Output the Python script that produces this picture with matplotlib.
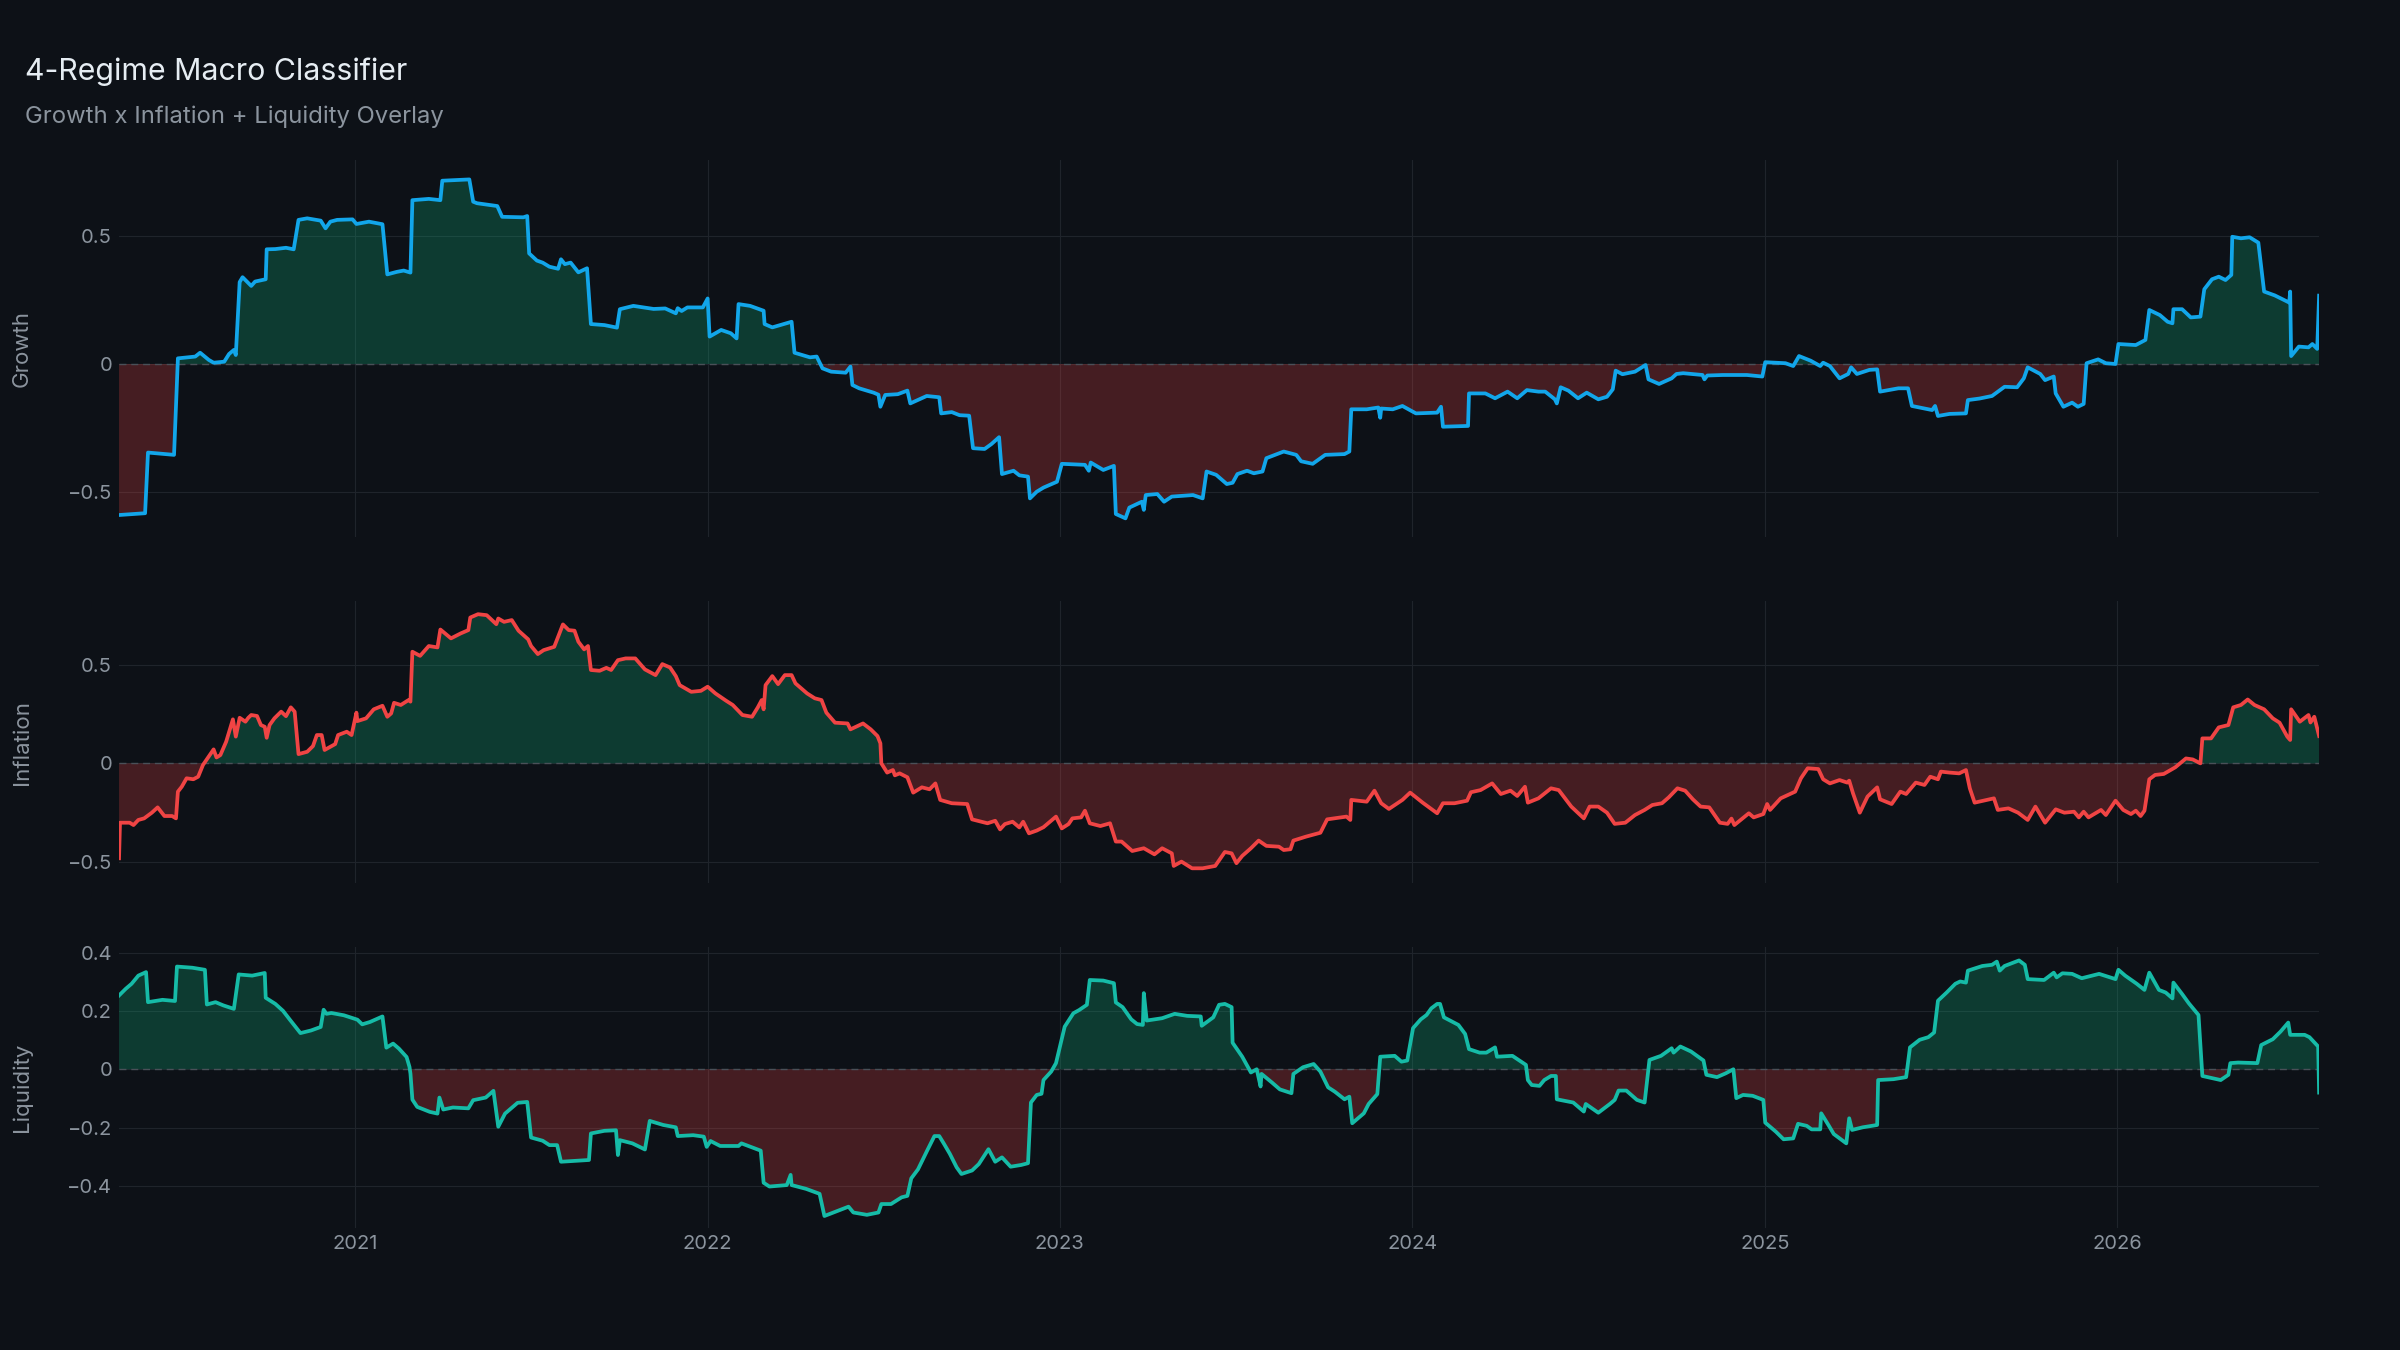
"""
4-Regime Macro Classifier: growth / inflation / liquidity scores, stacked panels.
"""

import numpy as np
import pandas as pd
import matplotlib.pyplot as plt
import matplotlib.dates as mdates

# ── data ─────────────────────────────────────────────────────────────────────
growth_dates = [
    '2020-05-01', '2020-05-28', '2020-05-31', '2020-06-27', '2020-07-01', '2020-07-19', '2020-07-24', '2020-08-02', '2020-08-07', '2020-08-18',
    '2020-08-23', '2020-08-28', '2020-08-30', '2020-09-03', '2020-09-06', '2020-09-15', '2020-09-19', '2020-09-30', '2020-10-01', '2020-10-10',
    '2020-10-21', '2020-10-29', '2020-11-03', '2020-11-12', '2020-11-26', '2020-12-01', '2020-12-06', '2020-12-13', '2020-12-29', '2021-01-02',
    '2021-01-15', '2021-01-29', '2021-02-03', '2021-02-13', '2021-02-20', '2021-02-27', '2021-03-01', '2021-03-18', '2021-03-30', '2021-04-01',
    '2021-04-29', '2021-05-03', '2021-05-07', '2021-05-28', '2021-06-02', '2021-06-24', '2021-06-28', '2021-06-30', '2021-07-08', '2021-07-14',
    '2021-07-21', '2021-07-30', '2021-08-02', '2021-08-06', '2021-08-12', '2021-08-20', '2021-08-29', '2021-09-02', '2021-09-16', '2021-09-29',
    '2021-10-02', '2021-10-16', '2021-11-06', '2021-11-18', '2021-11-29', '2021-12-01', '2021-12-05', '2021-12-11', '2021-12-27', '2022-01-01',
    '2022-01-03', '2022-01-15', '2022-01-25', '2022-01-31', '2022-02-02', '2022-02-14', '2022-02-28', '2022-03-01', '2022-03-09', '2022-03-29',
    '2022-04-01', '2022-04-17', '2022-04-24', '2022-04-30', '2022-05-09', '2022-05-24', '2022-05-29', '2022-05-31', '2022-06-07', '2022-06-22',
    '2022-06-27', '2022-06-29', '2022-07-04', '2022-07-17', '2022-07-27', '2022-07-30', '2022-08-16', '2022-08-29', '2022-08-31', '2022-09-11',
    '2022-09-19', '2022-09-29', '2022-10-03', '2022-10-15', '2022-10-22', '2022-10-30', '2022-11-02', '2022-11-14', '2022-11-20', '2022-11-29',
    '2022-12-01', '2022-12-08', '2022-12-15', '2022-12-29', '2023-01-03', '2023-01-15', '2023-01-27', '2023-01-31', '2023-02-02', '2023-02-15',
    '2023-02-26', '2023-02-28', '2023-03-10', '2023-03-14', '2023-03-27', '2023-03-29', '2023-03-31', '2023-04-12', '2023-04-19', '2023-04-27',
    '2023-05-19', '2023-05-29', '2023-06-02', '2023-06-12', '2023-06-23', '2023-06-29', '2023-07-04', '2023-07-14', '2023-07-21', '2023-07-30',
    '2023-08-03', '2023-08-21', '2023-09-03', '2023-09-08', '2023-09-20', '2023-10-03', '2023-10-23', '2023-10-28', '2023-10-30', '2023-11-15',
    '2023-11-27', '2023-11-29', '2023-11-30', '2023-12-12', '2023-12-22', '2024-01-05', '2024-01-27', '2024-01-31', '2024-02-02', '2024-02-28',
    '2024-02-29', '2024-03-17', '2024-03-27', '2024-04-09', '2024-04-19', '2024-04-29', '2024-05-11', '2024-05-18', '2024-05-28', '2024-05-30',
    '2024-06-03', '2024-06-11', '2024-06-21', '2024-06-30', '2024-07-12', '2024-07-21', '2024-07-27', '2024-07-30', '2024-08-06', '2024-08-19',
    '2024-08-30', '2024-09-02', '2024-09-13', '2024-09-26', '2024-10-01', '2024-10-08', '2024-10-28', '2024-10-30', '2024-11-02', '2024-11-18',
    '2024-12-13', '2024-12-29', '2025-01-01', '2025-01-22', '2025-01-30', '2025-02-05', '2025-02-17', '2025-02-27', '2025-03-02', '2025-03-09',
    '2025-03-19', '2025-03-28', '2025-03-31', '2025-04-06', '2025-04-19', '2025-04-27', '2025-04-30', '2025-05-19', '2025-05-29', '2025-06-02',
    '2025-06-23', '2025-06-26', '2025-06-29', '2025-07-11', '2025-07-28', '2025-07-30', '2025-08-11', '2025-08-24', '2025-09-06', '2025-09-19',
    '2025-09-26', '2025-09-30', '2025-10-13', '2025-10-18', '2025-10-27', '2025-10-29', '2025-11-06', '2025-11-15', '2025-11-21', '2025-11-27',
    '2025-11-30', '2025-12-12', '2025-12-20', '2025-12-30', '2026-01-02', '2026-01-20', '2026-01-30', '2026-02-03', '2026-02-14', '2026-02-22',
    '2026-02-27', '2026-02-28', '2026-03-09', '2026-03-18', '2026-03-28', '2026-04-01', '2026-04-09', '2026-04-16', '2026-04-23', '2026-04-29',
    '2026-04-30', '2026-05-09', '2026-05-18', '2026-05-27', '2026-06-02', '2026-06-13', '2026-06-28', '2026-06-29', '2026-06-30', '2026-07-08',
    '2026-07-18', '2026-07-22', '2026-07-27', '2026-07-29',
]
growth_vals = [
    -0.590, -0.583, -0.346, -0.355, 0.022, 0.029, 0.044, 0.016, 0.005, 0.009,
    0.039, 0.055, 0.035, 0.320, 0.339, 0.305, 0.322, 0.331, 0.448, 0.449,
    0.454, 0.448, 0.563, 0.569, 0.560, 0.530, 0.556, 0.563, 0.565, 0.547,
    0.556, 0.546, 0.350, 0.360, 0.365, 0.357, 0.640, 0.645, 0.640, 0.716,
    0.721, 0.634, 0.628, 0.617, 0.575, 0.573, 0.578, 0.432, 0.404, 0.396,
    0.380, 0.372, 0.409, 0.390, 0.396, 0.358, 0.374, 0.156, 0.152, 0.142,
    0.214, 0.227, 0.215, 0.217, 0.198, 0.218, 0.207, 0.221, 0.221, 0.256,
    0.107, 0.133, 0.120, 0.100, 0.234, 0.227, 0.208, 0.156, 0.143, 0.165,
    0.044, 0.026, 0.029, -0.017, -0.030, -0.034, -0.010, -0.082, -0.095, -0.112,
    -0.120, -0.167, -0.121, -0.118, -0.104, -0.154, -0.125, -0.130, -0.193, -0.188,
    -0.200, -0.202, -0.329, -0.332, -0.313, -0.286, -0.430, -0.417, -0.435, -0.440,
    -0.525, -0.499, -0.483, -0.460, -0.390, -0.392, -0.394, -0.417, -0.385, -0.414,
    -0.398, -0.586, -0.603, -0.561, -0.538, -0.570, -0.512, -0.508, -0.538, -0.518,
    -0.512, -0.525, -0.420, -0.433, -0.469, -0.464, -0.430, -0.417, -0.427, -0.420,
    -0.368, -0.342, -0.355, -0.380, -0.390, -0.355, -0.352, -0.342, -0.177, -0.177,
    -0.170, -0.210, -0.174, -0.177, -0.164, -0.193, -0.190, -0.167, -0.245, -0.242,
    -0.115, -0.115, -0.134, -0.108, -0.134, -0.102, -0.108, -0.108, -0.138, -0.154,
    -0.091, -0.104, -0.134, -0.112, -0.138, -0.128, -0.099, -0.026, -0.040, -0.030,
    -0.004, -0.060, -0.078, -0.056, -0.039, -0.036, -0.043, -0.060, -0.045, -0.043,
    -0.043, -0.049, 0.007, 0.003, -0.008, 0.031, 0.013, -0.008, 0.005, -0.008,
    -0.056, -0.039, -0.013, -0.039, -0.023, -0.021, -0.108, -0.095, -0.095, -0.164,
    -0.180, -0.164, -0.203, -0.195, -0.193, -0.141, -0.135, -0.125, -0.089, -0.091,
    -0.056, -0.013, -0.039, -0.063, -0.049, -0.115, -0.167, -0.151, -0.167, -0.156,
    0.003, 0.018, 0.003, 0.000, 0.078, 0.074, 0.094, 0.211, 0.191, 0.165,
    0.159, 0.214, 0.214, 0.182, 0.185, 0.292, 0.331, 0.341, 0.328, 0.348,
    0.497, 0.491, 0.495, 0.474, 0.283, 0.268, 0.240, 0.283, 0.031, 0.068,
    0.065, 0.078, 0.059, 0.267,
]

inflation_dates = [
    '2020-05-01', '2020-05-02', '2020-05-12', '2020-05-16', '2020-05-21', '2020-05-27', '2020-06-04', '2020-06-10', '2020-06-17', '2020-06-25',
    '2020-06-29', '2020-07-01', '2020-07-05', '2020-07-10', '2020-07-17', '2020-07-22', '2020-07-27', '2020-08-07', '2020-08-10', '2020-08-14',
    '2020-08-20', '2020-08-27', '2020-08-30', '2020-09-03', '2020-09-09', '2020-09-12', '2020-09-15', '2020-09-21', '2020-09-25', '2020-09-29',
    '2020-10-01', '2020-10-04', '2020-10-09', '2020-10-16', '2020-10-21', '2020-10-26', '2020-10-30', '2020-11-03', '2020-11-12', '2020-11-18',
    '2020-11-22', '2020-11-27', '2020-11-30', '2020-12-11', '2020-12-14', '2020-12-23', '2020-12-28', '2021-01-02', '2021-01-03', '2021-01-12',
    '2021-01-20', '2021-01-29', '2021-02-03', '2021-02-07', '2021-02-10', '2021-02-17', '2021-02-25', '2021-02-27', '2021-03-01', '2021-03-09',
    '2021-03-18', '2021-03-27', '2021-03-30', '2021-04-10', '2021-04-20', '2021-04-28', '2021-04-30', '2021-05-08', '2021-05-17', '2021-05-27',
    '2021-05-29', '2021-06-04', '2021-06-12', '2021-06-19', '2021-06-29', '2021-07-02', '2021-07-09', '2021-07-15', '2021-07-26', '2021-07-29',
    '2021-08-04', '2021-08-10', '2021-08-16', '2021-08-20', '2021-08-26', '2021-08-30', '2021-09-02', '2021-09-11', '2021-09-18', '2021-09-23',
    '2021-09-30', '2021-10-08', '2021-10-18', '2021-10-28', '2021-11-08', '2021-11-15', '2021-11-23', '2021-11-29', '2021-12-03', '2021-12-15',
    '2021-12-25', '2022-01-01', '2022-01-09', '2022-01-20', '2022-01-27', '2022-02-06', '2022-02-16', '2022-02-22', '2022-02-26', '2022-02-28',
    '2022-03-02', '2022-03-09', '2022-03-15', '2022-03-22', '2022-03-29', '2022-04-02', '2022-04-14', '2022-04-22', '2022-04-29', '2022-05-04',
    '2022-05-13', '2022-05-26', '2022-05-29', '2022-06-11', '2022-06-19', '2022-06-26', '2022-06-29', '2022-06-30', '2022-07-06', '2022-07-12',
    '2022-07-14', '2022-07-19', '2022-07-27', '2022-08-02', '2022-08-11', '2022-08-19', '2022-08-25', '2022-08-30', '2022-09-11', '2022-09-27',
    '2022-10-02', '2022-10-18', '2022-10-26', '2022-10-31', '2022-11-05', '2022-11-13', '2022-11-20', '2022-11-24', '2022-11-30', '2022-12-08',
    '2022-12-15', '2022-12-28', '2023-01-03', '2023-01-10', '2023-01-14', '2023-01-23', '2023-01-27', '2023-02-01', '2023-02-12', '2023-02-22',
    '2023-02-28', '2023-03-06', '2023-03-17', '2023-03-29', '2023-04-09', '2023-04-17', '2023-04-27', '2023-04-29', '2023-05-07', '2023-05-18',
    '2023-05-29', '2023-06-11', '2023-06-21', '2023-06-28', '2023-07-03', '2023-07-09', '2023-07-18', '2023-07-26', '2023-08-03', '2023-08-16',
    '2023-08-21', '2023-08-28', '2023-08-31', '2023-09-13', '2023-09-28', '2023-10-05', '2023-10-25', '2023-10-29', '2023-10-30', '2023-11-15',
    '2023-11-23', '2023-11-30', '2023-12-08', '2023-12-22', '2023-12-30', '2024-01-12', '2024-01-27', '2024-02-02', '2024-02-14', '2024-02-27',
    '2024-03-02', '2024-03-12', '2024-03-24', '2024-04-02', '2024-04-12', '2024-04-19', '2024-04-27', '2024-04-30', '2024-05-11', '2024-05-24',
    '2024-06-01', '2024-06-14', '2024-06-27', '2024-07-03', '2024-07-12', '2024-07-21', '2024-07-29', '2024-08-09', '2024-08-19', '2024-08-29',
    '2024-09-06', '2024-09-16', '2024-09-23', '2024-10-02', '2024-10-10', '2024-10-18', '2024-10-26', '2024-11-04', '2024-11-15', '2024-11-23',
    '2024-11-27', '2024-11-30', '2024-12-15', '2024-12-20', '2024-12-30', '2025-01-03', '2025-01-06', '2025-01-17', '2025-02-01', '2025-02-07',
    '2025-02-14', '2025-02-25', '2025-03-02', '2025-03-09', '2025-03-19', '2025-03-27', '2025-03-29', '2025-04-02', '2025-04-09', '2025-04-17',
    '2025-04-24', '2025-04-27', '2025-04-30', '2025-05-12', '2025-05-21', '2025-05-27', '2025-06-06', '2025-06-15', '2025-06-21', '2025-06-29',
    '2025-07-02', '2025-07-11', '2025-07-21', '2025-07-28', '2025-08-01', '2025-08-06', '2025-08-26', '2025-08-30', '2025-09-10', '2025-09-20',
    '2025-09-30', '2025-10-08', '2025-10-18', '2025-10-29', '2025-11-07', '2025-11-17', '2025-11-22', '2025-11-27', '2025-12-02', '2025-12-15',
    '2025-12-20', '2025-12-30', '2026-01-07', '2026-01-15', '2026-01-20', '2026-01-25', '2026-01-29', '2026-02-03', '2026-02-09', '2026-02-18',
    '2026-03-02', '2026-03-13', '2026-03-20', '2026-03-28', '2026-03-30', '2026-04-08', '2026-04-16', '2026-04-26', '2026-05-01', '2026-05-09',
    '2026-05-16', '2026-05-23', '2026-06-02', '2026-06-11', '2026-06-18', '2026-06-26', '2026-06-29', '2026-06-30', '2026-07-09', '2026-07-18',
    '2026-07-20', '2026-07-24', '2026-07-29',
]
inflation_vals = [
    -0.483, -0.302, -0.302, -0.314, -0.288, -0.280, -0.251, -0.224, -0.268, -0.268,
    -0.280, -0.144, -0.119, -0.076, -0.081, -0.068, -0.008, 0.071, 0.030, 0.042,
    0.110, 0.224, 0.136, 0.232, 0.212, 0.232, 0.246, 0.241, 0.195, 0.186,
    0.130, 0.195, 0.229, 0.263, 0.240, 0.285, 0.263, 0.047, 0.059, 0.088,
    0.144, 0.144, 0.068, 0.098, 0.144, 0.161, 0.144, 0.258, 0.215, 0.229,
    0.275, 0.293, 0.237, 0.254, 0.308, 0.297, 0.322, 0.314, 0.568, 0.547,
    0.597, 0.590, 0.681, 0.636, 0.661, 0.678, 0.742, 0.759, 0.754, 0.708,
    0.737, 0.720, 0.729, 0.675, 0.631, 0.597, 0.556, 0.576, 0.593, 0.631,
    0.707, 0.678, 0.675, 0.619, 0.580, 0.597, 0.475, 0.471, 0.486, 0.475,
    0.525, 0.534, 0.534, 0.478, 0.449, 0.505, 0.488, 0.444, 0.398, 0.364,
    0.369, 0.390, 0.356, 0.319, 0.297, 0.246, 0.237, 0.285, 0.322, 0.275,
    0.398, 0.444, 0.403, 0.449, 0.449, 0.407, 0.356, 0.331, 0.322, 0.258,
    0.207, 0.203, 0.173, 0.203, 0.173, 0.139, 0.102, 0.000, -0.047, -0.034,
    -0.061, -0.051, -0.071, -0.149, -0.122, -0.132, -0.102, -0.186, -0.203, -0.207,
    -0.285, -0.305, -0.292, -0.336, -0.309, -0.297, -0.326, -0.297, -0.356, -0.342,
    -0.325, -0.271, -0.331, -0.309, -0.280, -0.275, -0.241, -0.305, -0.319, -0.305,
    -0.398, -0.398, -0.446, -0.432, -0.463, -0.432, -0.458, -0.522, -0.500, -0.534,
    -0.534, -0.522, -0.451, -0.458, -0.508, -0.471, -0.432, -0.393, -0.420, -0.424,
    -0.441, -0.437, -0.393, -0.373, -0.353, -0.285, -0.271, -0.288, -0.186, -0.195,
    -0.139, -0.203, -0.232, -0.186, -0.149, -0.200, -0.254, -0.203, -0.203, -0.190,
    -0.147, -0.136, -0.102, -0.156, -0.139, -0.166, -0.119, -0.200, -0.178, -0.127,
    -0.136, -0.220, -0.280, -0.220, -0.220, -0.251, -0.308, -0.302, -0.263, -0.237,
    -0.212, -0.203, -0.173, -0.127, -0.139, -0.183, -0.220, -0.224, -0.302, -0.308,
    -0.281, -0.314, -0.254, -0.275, -0.258, -0.207, -0.237, -0.178, -0.144, -0.076,
    -0.025, -0.029, -0.081, -0.102, -0.085, -0.098, -0.088, -0.153, -0.251, -0.169,
    -0.136, -0.122, -0.183, -0.207, -0.144, -0.156, -0.098, -0.110, -0.068, -0.081,
    -0.042, -0.047, -0.051, -0.034, -0.127, -0.200, -0.178, -0.237, -0.229, -0.251,
    -0.288, -0.220, -0.302, -0.234, -0.251, -0.246, -0.275, -0.246, -0.275, -0.237,
    -0.263, -0.190, -0.237, -0.258, -0.241, -0.268, -0.241, -0.081, -0.059, -0.054,
    -0.020, 0.025, 0.020, 0.000, 0.127, 0.127, 0.183, 0.195, 0.285, 0.297,
    0.325, 0.297, 0.275, 0.229, 0.207, 0.136, 0.119, 0.275, 0.212, 0.246,
    0.208, 0.237, 0.139,
]

liquidity_dates = [
    '2020-05-01', '2020-05-08', '2020-05-14', '2020-05-21', '2020-05-29', '2020-05-31', '2020-06-15', '2020-06-28', '2020-06-30', '2020-07-16',
    '2020-07-29', '2020-07-31', '2020-08-09', '2020-08-17', '2020-08-28', '2020-09-02', '2020-09-16', '2020-09-29', '2020-09-30', '2020-10-10',
    '2020-10-18', '2020-10-25', '2020-11-05', '2020-11-16', '2020-11-26', '2020-11-29', '2020-12-02', '2020-12-07', '2020-12-20', '2021-01-03',
    '2021-01-08', '2021-01-16', '2021-01-29', '2021-02-02', '2021-02-09', '2021-02-15', '2021-02-23', '2021-02-26', '2021-02-27', '2021-03-01',
    '2021-03-06', '2021-03-19', '2021-03-27', '2021-03-29', '2021-04-02', '2021-04-12', '2021-04-28', '2021-05-03', '2021-05-16', '2021-05-24',
    '2021-05-29', '2021-06-05', '2021-06-18', '2021-06-28', '2021-07-02', '2021-07-14', '2021-07-21', '2021-07-29', '2021-08-02', '2021-08-31',
    '2021-09-02', '2021-09-16', '2021-09-28', '2021-09-30', '2021-10-02', '2021-10-15', '2021-10-28', '2021-11-02', '2021-11-16', '2021-11-29',
    '2021-12-01', '2021-12-17', '2021-12-28', '2021-12-31', '2022-01-04', '2022-01-14', '2022-02-02', '2022-02-05', '2022-02-25', '2022-02-28',
    '2022-03-06', '2022-03-24', '2022-03-28', '2022-03-29', '2022-04-13', '2022-04-27', '2022-05-02', '2022-05-27', '2022-06-01', '2022-06-15',
    '2022-06-27', '2022-06-30', '2022-07-10', '2022-07-21', '2022-07-27', '2022-07-31', '2022-08-07', '2022-08-16', '2022-08-24', '2022-08-29',
    '2022-09-03', '2022-09-09', '2022-09-16', '2022-09-21', '2022-10-02', '2022-10-09', '2022-10-19', '2022-10-26', '2022-11-02', '2022-11-11',
    '2022-11-22', '2022-11-29', '2022-12-02', '2022-12-08', '2022-12-13', '2022-12-15', '2022-12-23', '2022-12-28', '2023-01-06', '2023-01-15',
    '2023-01-21', '2023-01-29', '2023-02-01', '2023-02-15', '2023-02-26', '2023-02-28', '2023-03-07', '2023-03-16', '2023-03-22', '2023-03-28',
    '2023-03-29', '2023-04-01', '2023-04-17', '2023-04-30', '2023-05-13', '2023-05-27', '2023-05-28', '2023-06-09', '2023-06-15', '2023-06-21',
    '2023-06-28', '2023-06-29', '2023-07-09', '2023-07-18', '2023-07-24', '2023-07-28', '2023-07-29', '2023-08-09', '2023-08-17', '2023-08-29',
    '2023-08-31', '2023-09-10', '2023-09-21', '2023-09-28', '2023-10-06', '2023-10-13', '2023-10-23', '2023-10-28', '2023-10-31', '2023-11-12',
    '2023-11-17', '2023-11-26', '2023-11-29', '2023-12-14', '2023-12-21', '2023-12-27', '2024-01-02', '2024-01-10', '2024-01-16', '2024-01-21',
    '2024-01-27', '2024-01-30', '2024-02-03', '2024-02-18', '2024-02-25', '2024-02-29', '2024-03-11', '2024-03-18', '2024-03-27', '2024-03-29',
    '2024-04-14', '2024-04-28', '2024-04-30', '2024-05-04', '2024-05-12', '2024-05-17', '2024-05-24', '2024-05-29', '2024-05-30', '2024-06-16',
    '2024-06-27', '2024-06-29', '2024-07-12', '2024-07-24', '2024-07-29', '2024-08-02', '2024-08-10', '2024-08-21', '2024-08-29', '2024-09-03',
    '2024-09-15', '2024-09-26', '2024-09-28', '2024-10-05', '2024-10-16', '2024-10-29', '2024-11-01', '2024-11-12', '2024-11-21', '2024-11-29',
    '2024-12-02', '2024-12-09', '2024-12-19', '2024-12-30', '2025-01-01', '2025-01-12', '2025-01-20', '2025-01-30', '2025-02-04', '2025-02-13',
    '2025-02-18', '2025-02-27', '2025-02-28', '2025-03-08', '2025-03-13', '2025-03-26', '2025-03-29', '2025-04-01', '2025-04-12', '2025-04-27',
    '2025-04-28', '2025-05-14', '2025-05-27', '2025-05-31', '2025-06-10', '2025-06-19', '2025-06-25', '2025-06-29', '2025-07-08', '2025-07-17',
    '2025-07-22', '2025-07-28', '2025-07-30', '2025-08-14', '2025-08-24', '2025-08-29', '2025-09-01', '2025-09-06', '2025-09-21', '2025-09-27',
    '2025-09-30', '2025-10-17', '2025-10-27', '2025-10-30', '2025-11-05', '2025-11-15', '2025-11-25', '2025-12-13', '2025-12-30', '2026-01-02',
    '2026-01-09', '2026-01-21', '2026-01-29', '2026-02-03', '2026-02-13', '2026-02-20', '2026-02-27', '2026-02-28', '2026-03-09', '2026-03-16',
    '2026-03-26', '2026-03-30', '2026-04-18', '2026-04-26', '2026-04-28', '2026-05-06', '2026-05-26', '2026-05-30', '2026-06-11', '2026-06-19',
    '2026-06-27', '2026-06-29', '2026-07-14', '2026-07-19', '2026-07-28', '2026-07-29',
]
liquidity_vals = [
    0.253, 0.276, 0.293, 0.321, 0.333, 0.230, 0.238, 0.234, 0.352, 0.348,
    0.341, 0.222, 0.230, 0.219, 0.207, 0.325, 0.321, 0.330, 0.245, 0.224,
    0.200, 0.170, 0.124, 0.133, 0.145, 0.204, 0.190, 0.193, 0.185, 0.170,
    0.154, 0.162, 0.181, 0.074, 0.088, 0.071, 0.042, 0.008, -0.015, -0.104,
    -0.129, -0.146, -0.152, -0.097, -0.138, -0.131, -0.134, -0.106, -0.097, -0.074,
    -0.197, -0.152, -0.115, -0.112, -0.234, -0.245, -0.260, -0.260, -0.317, -0.311,
    -0.220, -0.211, -0.209, -0.294, -0.243, -0.254, -0.275, -0.177, -0.191, -0.199,
    -0.229, -0.226, -0.231, -0.266, -0.246, -0.263, -0.263, -0.254, -0.279, -0.389,
    -0.402, -0.397, -0.362, -0.397, -0.410, -0.427, -0.503, -0.471, -0.491, -0.499,
    -0.491, -0.462, -0.462, -0.439, -0.434, -0.374, -0.343, -0.282, -0.229, -0.229,
    -0.256, -0.290, -0.336, -0.359, -0.347, -0.325, -0.274, -0.317, -0.302, -0.334,
    -0.328, -0.322, -0.114, -0.088, -0.084, -0.037, -0.008, 0.021, 0.146, 0.192,
    0.203, 0.221, 0.306, 0.304, 0.295, 0.229, 0.213, 0.171, 0.155, 0.152,
    0.261, 0.167, 0.175, 0.190, 0.183, 0.181, 0.149, 0.178, 0.221, 0.224,
    0.213, 0.091, 0.043, -0.011, 0.000, -0.059, -0.016, -0.046, -0.069, -0.082,
    -0.016, 0.007, 0.018, -0.008, -0.062, -0.077, -0.103, -0.094, -0.185, -0.151,
    -0.119, -0.085, 0.043, 0.046, 0.026, 0.030, 0.141, 0.171, 0.186, 0.209,
    0.224, 0.224, 0.178, 0.152, 0.121, 0.069, 0.057, 0.057, 0.075, 0.043,
    0.046, 0.015, -0.037, -0.054, -0.057, -0.037, -0.023, -0.023, -0.103, -0.114,
    -0.145, -0.119, -0.149, -0.119, -0.105, -0.073, -0.073, -0.105, -0.114, 0.032,
    0.046, 0.072, 0.057, 0.078, 0.061, 0.030, -0.019, -0.027, -0.014, 0.000,
    -0.099, -0.088, -0.091, -0.105, -0.183, -0.214, -0.240, -0.237, -0.187, -0.194,
    -0.206, -0.206, -0.151, -0.194, -0.222, -0.254, -0.168, -0.208, -0.199, -0.191,
    -0.037, -0.034, -0.027, 0.075, 0.101, 0.110, 0.126, 0.235, 0.263, 0.293,
    0.301, 0.297, 0.338, 0.354, 0.358, 0.369, 0.338, 0.354, 0.373, 0.358,
    0.309, 0.306, 0.331, 0.315, 0.329, 0.327, 0.312, 0.327, 0.309, 0.341,
    0.321, 0.293, 0.272, 0.331, 0.272, 0.263, 0.243, 0.297, 0.258, 0.226,
    0.186, -0.023, -0.037, -0.019, 0.021, 0.023, 0.021, 0.083, 0.103, 0.129,
    0.160, 0.118, 0.118, 0.110, 0.078, -0.080,
]

panel_names = ['Growth', 'Inflation', 'Liquidity']
growth_ticks = [-0.5, 0, 0.5]
growth_ticklabels = ['\u22120.5', '0', '0.5']
inflation_ticks = [-0.5, 0, 0.5]
inflation_ticklabels = ['\u22120.5', '0', '0.5']
liquidity_ticks = [-0.4, -0.2, 0, 0.2, 0.4]
liquidity_ticklabels = ['\u22120.4', '\u22120.2', '0', '0.2', '0.4']

for d, v in [(growth_dates, growth_vals), (inflation_dates, inflation_vals),
             (liquidity_dates, liquidity_vals)]:
    assert len(d) == len(v), (len(d), len(v))

# ── style ─────────────────────────────────────────────────────────────────────
plt.rcParams['font.family'] = ['Inter', 'DejaVu Sans']

BG        = '#0d1117'
GRID      = '#1f242b'
ZERO      = '#4a5058'
TICK_COL  = '#8b949e'
TITLE_COL = '#e6edf3'
POS_FILL  = (16/255, 185/255, 129/255, 0.25)
NEG_FILL  = (239/255, 68/255, 68/255, 0.25)
LINE_COLS = ['#12a6ea', '#f04444', '#16bba7']

fig = plt.figure(figsize=(24, 13.5), dpi=100, facecolor=BG)

fig.text(0.0104, 0.9407, '4-Regime Macro Classifier', fontsize=21.8,
         color=TITLE_COL, va='baseline', ha='left')
fig.text(0.0104, 0.9089, 'Growth x Inflation + Liquidity Overlay', fontsize=17.2,
         color=TICK_COL, va='baseline', ha='left')

# [left, bottom, width, height] of the three stacked panels
boxes = [[0.0496, 0.6022, 0.9167, 0.2793],
         [0.0496, 0.3459, 0.9167, 0.2089],
         [0.0496, 0.0904, 0.9167, 0.2081]]
ylims = [(-0.676, 0.797), (-0.609, 0.826), (-0.544, 0.419)]

series = [(growth_dates, growth_vals, growth_ticks, growth_ticklabels),
          (inflation_dates, inflation_vals, inflation_ticks, inflation_ticklabels),
          (liquidity_dates, liquidity_vals, liquidity_ticks, liquidity_ticklabels)]

x_start = mdates.date2num(pd.Timestamp(growth_dates[0]))
x_end = mdates.date2num(pd.Timestamp(growth_dates[-1]))

for i, (dates, vals, ticks, ticklabels) in enumerate(series):
    ax = fig.add_axes(boxes[i])
    ax.set_facecolor(BG)
    x = mdates.date2num(pd.to_datetime(dates))
    y = np.array(vals)

    ax.fill_between(x, y, 0, where=y >= 0, interpolate=True, color=POS_FILL, lw=0, zorder=1)
    ax.fill_between(x, y, 0, where=y <= 0, interpolate=True, color=NEG_FILL, lw=0, zorder=1)
    ax.axhline(0, color=ZERO, lw=1.0, dashes=(5, 3.5), zorder=2)
    ax.plot(x, y, color=LINE_COLS[i], lw=2.7, solid_joinstyle='round', zorder=3)

    ax.set_xlim(x_start, x_end)
    ax.set_ylim(*ylims[i])
    ax.set_yticks(ticks)
    ax.set_yticklabels(ticklabels)
    ax.xaxis.set_major_locator(mdates.YearLocator())
    ax.xaxis.set_major_formatter(mdates.DateFormatter('%Y'))
    ax.grid(True, color=GRID, lw=0.8, zorder=0)
    ax.set_axisbelow(True)
    for s in ax.spines.values():
        s.set_visible(False)
    ax.tick_params(length=0, colors=TICK_COL, labelsize=14.5, pad=5)
    if i < 2:
        ax.tick_params(labelbottom=False)
    ax.text(-0.0443, 0.5, panel_names[i], rotation=90, ha='center', va='center',
            transform=ax.transAxes, color=TICK_COL, fontsize=16)

plt.savefig('out.png', dpi=100, facecolor=BG)
